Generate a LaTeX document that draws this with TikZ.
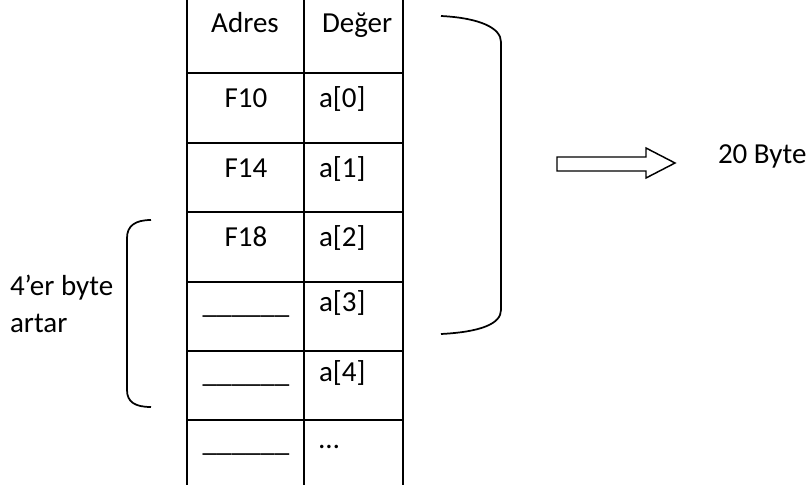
\documentclass[tikz,border=0pt]{standalone}
\usepackage{fontspec}
\setmainfont{Carlito}
\begin{document}
\begin{tikzpicture}[x=0.75pt, y=-0.75pt, line width=1.5pt,
	yazi/.style={inner sep=0pt, font=\fontsize{21.75}{26}\selectfont}]
%	1px = 0.75pt, y aşağı doğru
	\useasboundingbox (0, 0) rectangle (806, 485); %resim boyutu
	\draw (187, 0)-- (187, 485); %tablo sol kenar
	\draw (304, 0)-- (304, 485); %tablo orta çizgi
	\draw (403, 0)-- (403, 485); %tablo sağ kenar
	\draw (187, 73)-- (403, 73);
	\draw (187, 143)-- (403, 143);
	\draw (187, 212)-- (403, 212);
	\draw (187, 282)-- (403, 282);
	\draw (187, 351)-- (403, 351);
	\draw (187, 420)-- (403, 420);
	\node[yazi, anchor=base] (adres) at (245, 33) {Adres}; %başlık
	\node[yazi, anchor=base west] (deger) at (321, 33) {Değer};
	\node[yazi, anchor=base] (f10) at (246, 107) {F10};
	\node[yazi, anchor=base] (f14) at (246, 177) {F14};
	\node[yazi, anchor=base] (f18) at (246, 246) {F18};
	\node[yazi, anchor=base] (bos1) at (246, 313) {\_\_\_\_\_\_}; %boş adres
	\node[yazi, anchor=base] (bos2) at (246, 382) {\_\_\_\_\_\_};
	\node[yazi, anchor=base] (bos3) at (246, 451) {\_\_\_\_\_\_};
	\node[yazi, anchor=base west] (a0) at (318, 107) {a[0]};
	\node[yazi, anchor=base west] (a1) at (318, 177) {a[1]};
	\node[yazi, anchor=base west] (a2) at (318, 246) {a[2]};
	\node[yazi, anchor=base west] (a3) at (318, 311) {a[3]};
	\node[yazi, anchor=base west] (a4) at (318, 381) {a[4]};
	\node[yazi, anchor=base west] (nokta) at (318, 448) {…};
	\draw[line width=1.3pt] (151, 220) .. controls (135, 220) and (127, 226) .. (127, 238)-- (127, 390) .. controls (127, 402) and (135, 407) .. (151, 407); %sol parantez
	\node[yazi, anchor=base west] (dort) at (9, 295) {4’er byte};
	\node[yazi, anchor=base west] (artar) at (9, 332) {artar};
	\draw[line width=1.3pt] (441, 16) .. controls (480, 18) and (501, 28) .. (501, 42)-- (501, 310) .. controls (501, 324) and (480, 332) .. (441, 334); %sağ parantez
	\draw[line width=1.1pt] (557, 157)-- (646, 157)-- (646, 148)-- (675, 163)-- (646, 178)-- (646, 171)-- (557, 171)-- cycle; %blok ok
	\node[yazi, anchor=base west] (bayt) at (717, 163) {20 Byte};
\end{tikzpicture}
\end{document}
